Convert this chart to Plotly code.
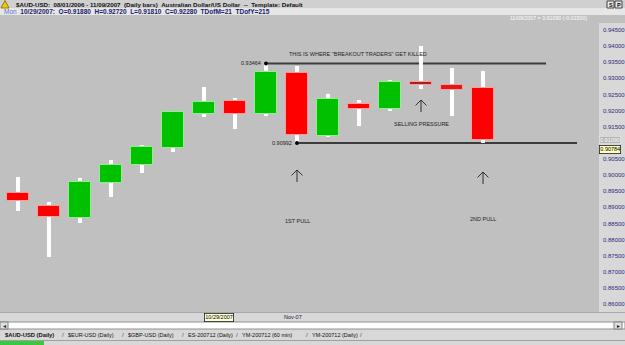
import plotly.graph_objects as go

# ---------------- data ----------------
dates = ['10/19/2007', '10/22/2007', '10/23/2007', '10/24/2007', '10/25/2007', '10/26/2007',
         '10/29/2007', '10/30/2007', '10/31/2007', '11/01/2007', '11/02/2007', '11/05/2007',
         '11/06/2007', '11/07/2007', '11/08/2007', '11/09/2007']
opens = [0.8943, 0.8904, 0.8866, 0.8975, 0.9030, 0.9083, 0.9188, 0.9229,
         0.9189, 0.9316, 0.9121, 0.9220, 0.9205, 0.9289, 0.9278, 0.9269]
highs = [0.8993, 0.8916, 0.8991, 0.9047, 0.9093, 0.9197, 0.9272, 0.9238,
         0.93464, 0.9338, 0.9251, 0.9232, 0.9295, 0.9400, 0.9333, 0.9323]
lows = [0.8890, 0.8747, 0.8850, 0.8931, 0.9007, 0.9072, 0.9181, 0.9143,
        0.9183, 0.90992, 0.9117, 0.9153, 0.9199, 0.9267, 0.9184, 0.9099]
closes = [0.8919, 0.8869, 0.8978, 0.9030, 0.9086, 0.9195, 0.9228, 0.9189,
          0.9319, 0.9124, 0.9236, 0.9205, 0.9288, 0.9279, 0.9265, 0.9109]

tick_vals = [0.945, 0.940, 0.935, 0.930, 0.925, 0.920, 0.915, 0.905,
             0.900, 0.895, 0.890, 0.885, 0.880, 0.875, 0.870, 0.865, 0.860]

resistance = 0.93464
support = 0.90992
last_close_label = "11/09/2007 = 0.91090 (-0.01500)"
crosshair_price = 0.90784
tabs = ['$AUD-USD (Daily)', '$EUR-USD (Daily)', '$GBP-USD (Daily)',
        'ES-200712 (Daily)', 'YM-200712 (60 min)', 'YM-200712 (Daily)']

# ---------------- geometry helpers ----------------
W, H = 625, 345
PL, PR, PT, PB = 0, 599, 15, 312
Y0, Y1 = 0.85753, 0.94965
def px_x(px):
    return (px - PL) / (PR - PL)
def px_y(py):
    return (PB - py) / (PB - PT)
def price_at(py):
    return Y0 + (PB - py) / (PB - PT) * (Y1 - Y0)
def xpx_to_idx(px):
    return (px - 18) / 31.0

idx = list(range(len(dates)))
FONT = 'Liberation Sans, Arial, sans-serif'

up_fill, up_line = '#00c000', '#90f090'
dn_fill, dn_line = '#ff0000', '#ff9a9a'
body_fill, body_line = [], []
for o, c in zip(opens, closes):
    if c >= o:
        body_fill.append(up_fill); body_line.append(up_line)
    else:
        body_fill.append(dn_fill); body_line.append(dn_line)
body_fill[dates.index('11/07/2007')] = '#b01c1c'
body_fill[dates.index('11/08/2007')] = '#e01818'

fig = go.Figure()
# wicks
fig.add_trace(go.Bar(
    x=idx, base=lows, y=[h - l for h, l in zip(highs, lows)],
    width=0.1, marker=dict(color='white', line=dict(width=0)),
    hovertext=dates, hoverinfo='text', showlegend=False))
# bodies
fig.add_trace(go.Bar(
    x=idx, base=[min(o, c) for o, c in zip(opens, closes)],
    y=[abs(c - o) for o, c in zip(opens, closes)],
    width=0.69, marker=dict(color=body_fill, line=dict(color=body_line, width=1)),
    hovertext=dates, hoverinfo='text', showlegend=False))

r_i = highs.index(resistance)
s_i = lows.index(support)
fig.add_trace(go.Scatter(x=[r_i, s_i], y=[resistance, support], mode='markers',
                         marker=dict(color='black', size=4), showlegend=False,
                         hoverinfo='skip'))

shapes = []
ann = []

shapes.append(dict(type='line', xref='x', yref='y', x0=r_i, x1=xpx_to_idx(546),
                   y0=resistance, y1=resistance, line=dict(color='#3c3c3c', width=2), layer='below'))
shapes.append(dict(type='line', xref='x', yref='y', x0=s_i, x1=xpx_to_idx(577),
                   y0=support, y1=support, line=dict(color='#3c3c3c', width=2), layer='below'))

small = dict(family=FONT, size=5.5, color='#202020')
ann.append(dict(x=r_i, y=resistance, xref='x', yref='y', text=f'{resistance:.5f}',
                showarrow=False, xanchor='right', xshift=-3, font=small))
ann.append(dict(x=s_i, y=support, xref='x', yref='y', text=f'{support:.5f}',
                showarrow=False, xanchor='right', xshift=-3, font=small))

txt = dict(family=FONT, size=5.5, color='#1e1e1e')
ann.append(dict(x=xpx_to_idx(358), y=price_at(54), xref='x', yref='y',
                text='THIS IS WHERE "BREAKOUT TRADERS" GET KILLED', showarrow=False, font=txt))
ann.append(dict(x=13, y=price_at(124), xref='x', yref='y', text='SELLING PRESSURE',
                showarrow=False, font=txt))
ann.append(dict(x=9, y=price_at(221), xref='x', yref='y', text='1ST PULL',
                showarrow=False, font=txt))
ann.append(dict(x=15, y=price_at(219), xref='x', yref='y', text='2ND PULL',
                showarrow=False, font=txt))
# thin open arrows (pixel-sized paths anchored at the arrow tail)
for xi, tail in [(13, 112), (9, 182), (15, 184)]:
    shapes.append(dict(type='path', xref='x', yref='y',
                       xsizemode='pixel', ysizemode='pixel',
                       xanchor=xi, yanchor=price_at(tail),
                       path='M0,0 L0,12 M-5.5,6.5 L0,12 L5.5,6.5',
                       line=dict(color='#202020', width=0.9), layer='above'))

# ---------- frame / chrome ----------
def rect(x0, y0, x1, y1, fill, line=None, lw=0):
    shapes.append(dict(type='rect', xref='paper', yref='paper',
                       x0=px_x(x0), x1=px_x(x1), y0=px_y(y1), y1=px_y(y0),
                       fillcolor=fill, line=dict(color=line or fill, width=lw), layer='above'))

rect(0, 0, W, 8, '#d0d0d0')
rect(0, 8, W, 15, '#e6e6e6')
rect(599, 15, W, 23, '#c0c0c0')
rect(0, 312, W, 313, '#a8a8a8')
rect(0, 322, W, 329, '#ffffff', '#909090', 1)
rect(0, 322, 8, 329, '#e0e0e0', '#808080', 1)
rect(614, 322, 622, 329, '#e0e0e0', '#808080', 1)
rect(0, 340, W, 341, '#a0a0a0')
rect(0, 341, 44, 345, '#3cc83c')
rect(607, 1, 614, 8, '#ececec', '#404040', 1)
rect(615, 1, 622, 8, '#ececec', '#404040', 1)
shapes.append(dict(type='path', xref='paper', yref='paper',
                   path=f'M{px_x(1)},{px_y(8)} L{px_x(5)},{px_y(0.5)} L{px_x(9)},{px_y(8)} Z',
                   fillcolor='#f0d000', line=dict(color='#806000', width=0.8), layer='above'))

def ptext(x, y, text, size=6, color='black', anchor='left', **kw):
    ann.append(dict(x=px_x(x), y=px_y(y), xref='paper', yref='paper', text=text,
                    showarrow=False, xanchor=anchor, yanchor='middle',
                    font=dict(family=FONT, size=size, color=color), **kw))

nb = '\u00a0'
ptext(14, 4.3, f'<b>$AUD-USD:{nb*2}08/01/2006 - 11/09/2007{nb*2}(Daily bars){nb*2}Australian Dollar/US Dollar{nb*2}--{nb*2}Template: Default</b>',
      size=6.2, color='#101010')
k = dates.index('10/29/2007')
info = (f"<span style='color:#5a78d0'>Mon</span>{nb*2}<b>{dates[k]}:{nb*2}O={opens[k]:.5f}{nb*2}H={highs[k]:.5f}"
        f"{nb*2}L={lows[k]:.5f}{nb*2}C={closes[k]:.5f}{nb*2}TDofM=21{nb*2}TDofY=215</b>")
ptext(2, 11.6, info, size=6.5, color='#1a1a70')
ptext(589, 18, last_close_label, size=5.3, color='white', anchor='right')
ptext(610.5, 4.6, '<b>S</b>', size=5.5, anchor='center')
ptext(618.5, 4.6, '<b>P</b>', size=5.5, anchor='center')

ann.append(dict(x=1.0, y=closes[-1], xref='paper', yref='y', text=f'{closes[-1]:.5f}',
                showarrow=False, xanchor='left', yanchor='middle',
                font=dict(family=FONT, size=5.5, color='white'), bgcolor='#b4b4b4',
                bordercolor='#f4f4f4', borderwidth=0.5, borderpad=0.5))
ann.append(dict(x=1.0, y=crosshair_price, xref='paper', yref='y', text=f'{crosshair_price:.5f}',
                showarrow=False, xanchor='left', yanchor='middle',
                font=dict(family=FONT, size=5.5, color='black'), bgcolor='#ffffc0',
                bordercolor='#202020', borderwidth=0.8, borderpad=0.5))
ann.append(dict(x=k, y=px_y(317), xref='x', yref='paper', text=dates[k], showarrow=False,
                xanchor='left', yanchor='middle',
                font=dict(family=FONT, size=5.5, color='black'), bgcolor='#ffffd8',
                bordercolor='#202020', borderwidth=0.8, borderpad=0.5))
nov = dates.index('11/01/2007')
ann.append(dict(x=nov - 0.5, y=px_y(317), xref='x', yref='paper', text='Nov-07',
                showarrow=False, xanchor='left', yanchor='middle',
                font=dict(family=FONT, size=5.5, color='#202040')))
ptext(4, 325.5, '\u25c2', size=6, anchor='center', color='#202020')
ptext(618, 325.5, '\u25b8', size=6, anchor='center', color='#202020')

tab_x = [3, 66, 126, 186, 240, 310]
for i, (tx, name) in enumerate(zip(tab_x, tabs)):
    label = f'<b>{name}</b>' if i == 0 else name
    ptext(tx, 335, label, size=5.8 if i == 0 else 5.5, color='#101010')
    sep_x = (tab_x[i + 1] - 6) if i + 1 < len(tab_x) else 358
    ptext(sep_x, 335, '/', size=6, color='#404040')

fig.update_layout(
    width=W, height=H,
    margin=dict(l=PL, r=W - PR, t=PT, b=H - PB, pad=0),
    paper_bgcolor='#d8d8d8', plot_bgcolor='#c0c0c0',
    barmode='overlay', bargap=0,
    showlegend=False,
    shapes=shapes, annotations=ann,
    xaxis=dict(range=[xpx_to_idx(0), xpx_to_idx(599)], showgrid=False, zeroline=False,
               showticklabels=False, ticks='', fixedrange=True),
    yaxis=dict(side='right', range=[Y0, Y1], showgrid=False, zeroline=False,
               tickvals=tick_vals, ticktext=[f'{v:.5f}' for v in tick_vals],
               tickfont=dict(family=FONT, size=6, color='#2a2a7a'), ticks='',
               ticklabelstandoff=3, fixedrange=True),
    font=dict(family=FONT),
)

fig.write_html('out.html', config={'displayModeBar': False})
